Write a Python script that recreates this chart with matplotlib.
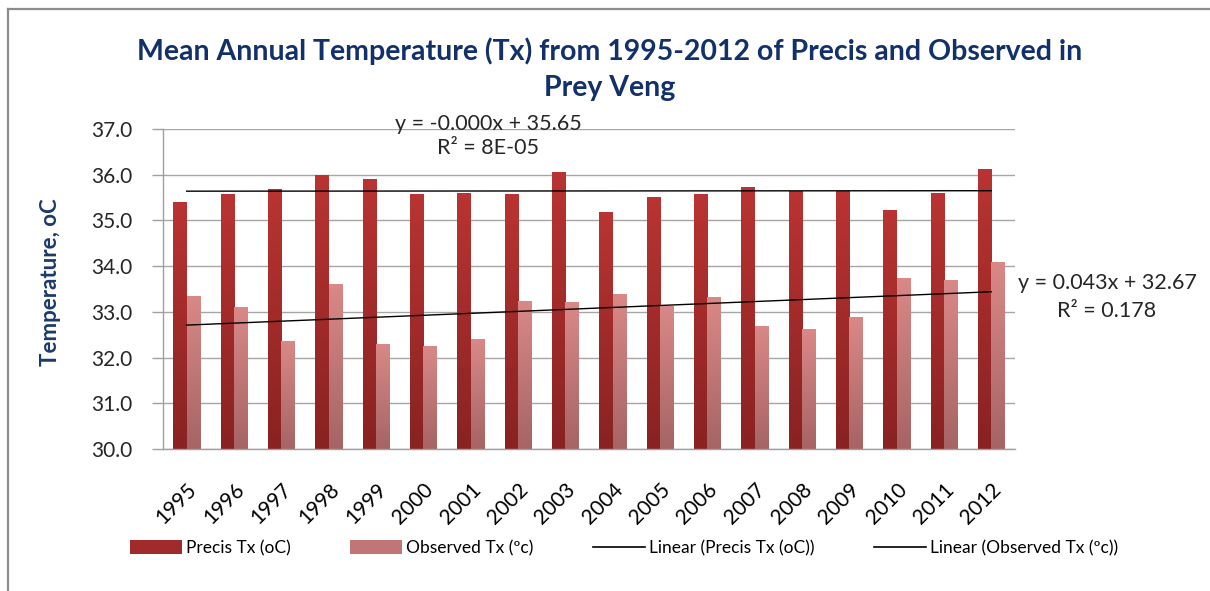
import numpy as np
import matplotlib
matplotlib.use("Agg")
import matplotlib.pyplot as plt
from matplotlib.patches import Patch
from matplotlib.lines import Line2D

years = ["1995", "1996", "1997", "1998", "1999", "2000", "2001", "2002", "2003",
         "2004", "2005", "2006", "2007", "2008", "2009", "2010", "2011", "2012"]
precis = [35.41, 35.57, 35.68, 35.99, 35.90, 35.57, 35.60, 35.57, 36.06,
          35.19, 35.52, 35.57, 35.74, 35.65, 35.65, 35.22, 35.60, 36.12]
observed = [33.35, 33.10, 32.37, 33.60, 32.29, 32.26, 32.40, 33.24, 33.21,
            33.38, 33.13, 33.32, 32.69, 32.62, 32.88, 33.73, 33.70, 34.08]
yticks = [30.0, 31.0, 32.0, 33.0, 34.0, 35.0, 36.0, 37.0]

title = "Mean Annual Temperature (Tx) from 1995-2012 of Precis and Observed in\nPrey Veng"
ylabel = "Temperature, oC"
legend_labels = ["Precis Tx (oC)", "Observed Tx (\u00bac)",
                 "Linear (Precis Tx (oC))", "Linear (Observed Tx (\u00bac))"]
eq_precis = "y = -0.000x + 35.65\nR\u00b2 = 8E-05"
eq_obs = "y = 0.043x + 32.67\nR\u00b2 = 0.178"

plt.rcParams['font.family'] = ['Lato', 'DejaVu Sans']

W, H = 1210, 591
fig = plt.figure(figsize=(W / 100, H / 100), dpi=100)
fig.patch.set_facecolor('white')

# outer chart border (top and left edges visible)
fig.add_artist(Line2D([8 / W, 1.0], [1 - 9 / H, 1 - 9 / H], transform=fig.transFigure,
                      color='#8c8c8c', lw=1.6))
fig.add_artist(Line2D([8 / W, 8 / W], [0.0, 1 - 9 / H], transform=fig.transFigure,
                      color='#8c8c8c', lw=1.6))

ax = fig.add_axes([163 / W, 1 - 449 / H, 852 / W, 320 / H])

x = np.arange(len(years))
w = 0.285
ymin = 30.0

def grad_bars(xpos, vals, top, bottom):
    bars = ax.bar(xpos, np.array(vals) - ymin, bottom=ymin, width=w, color=top,
                  edgecolor='none', zorder=2)
    cmap = matplotlib.colors.LinearSegmentedColormap.from_list('g', [bottom, top])
    grad = np.linspace(0, 1, 256).reshape(-1, 1)
    for b in bars:
        x0 = b.get_x()
        y0 = b.get_y()
        im = ax.imshow(grad, extent=[x0, x0 + b.get_width(), y0, y0 + b.get_height()],
                       origin='lower', cmap=cmap, aspect='auto', zorder=2.1,
                       interpolation='bilinear')
        im.set_clip_path(b)
    return bars

grad_bars(x - w / 2, precis, '#b93432', '#892222')
grad_bars(x + w / 2, observed, '#d98987', '#a66464')

# linear trend lines (Excel x = 1..18)
xe = x + 1
for vals in (precis, observed):
    m, c = np.polyfit(xe, vals, 1)
    ax.plot([x[0], x[-1]], [m * xe[0] + c, m * xe[-1] + c], color='black', lw=1.0, zorder=3)

ax.set_xlim(-0.5, len(years) - 0.5)
ax.set_ylim(30, 37)
ax.set_yticks(yticks)
ax.set_yticklabels([f"{t:.1f}" for t in yticks], fontsize=15, color='#262626')
ax.set_xticks(x)
ax.set_xticklabels(years, rotation=45, ha='right', rotation_mode='anchor',
                   fontsize=15, color='black')
ax.tick_params(axis='x', length=0, pad=22)
ax.tick_params(axis='y', length=8, color='#a0a0a0', width=1, pad=14)
ax.grid(axis='y', color='#a6a6a6', lw=1.0, zorder=0)
ax.set_axisbelow(True)
for s in ('top', 'right'):
    ax.spines[s].set_visible(False)
ax.spines['left'].set_color('#a0a0a0')
ax.spines['bottom'].set_color('#a0a0a0')
ax.spines['left'].set_linewidth(1.0)
ax.spines['bottom'].set_linewidth(1.0)

fig.text(51 / W, 1 - 282 / H, ylabel, rotation=90, ha='center', va='center',
         fontsize=16, fontweight='bold', color='#1b3a6b')
fig.text(610 / W, 1 - 69 / H, title, ha='center', va='center', fontsize=20.5,
         fontweight='bold', color='#12306a', linespacing=1.5)

fig.text(488 / W, 1 - 136 / H, eq_precis, ha='center', va='center', fontsize=15.5,
         color='#262626', linespacing=1.3)
fig.text(1107 / W, 1 - 297 / H, eq_obs, ha='center', va='center', fontsize=15.5,
         color='#262626', linespacing=1.45)

handles = [Patch(facecolor='#a12b2a', edgecolor='none'),
           Patch(facecolor='#c27575', edgecolor='none'),
           Line2D([], [], color='black', lw=1.2),
           Line2D([], [], color='black', lw=1.2)]
fig.legend(handles, legend_labels, loc='center', bbox_to_anchor=(624 / W, 1 - 548 / H),
           ncol=4, frameon=False, fontsize=12.5, handlelength=3.0, handleheight=0.8,
           handletextpad=0.25, columnspacing=3.4)

fig.savefig('out.png', dpi=100)
